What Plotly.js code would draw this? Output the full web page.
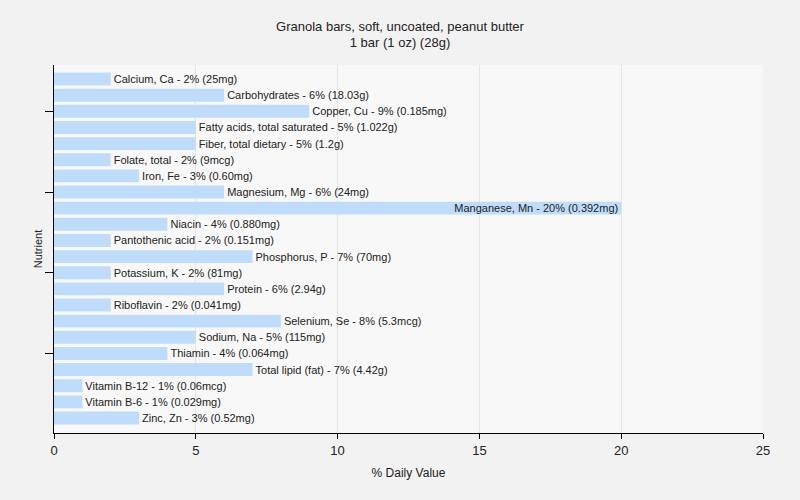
<!DOCTYPE html>
<html><head><meta charset="utf-8">
<script src="https://cdn.plot.ly/plotly-3.0.1.min.js"></script>
<style>body{margin:0;background:#f2f2f2}</style>
</head><body><div id="chart" style="width:800px;height:500px"></div>
<script>
const nutrients = ["Calcium, Ca","Carbohydrates","Copper, Cu","Fatty acids, total saturated","Fiber, total dietary","Folate, total","Iron, Fe","Magnesium, Mg","Manganese, Mn","Niacin","Pantothenic acid","Phosphorus, P","Potassium, K","Protein","Riboflavin","Selenium, Se","Sodium, Na","Thiamin","Total lipid (fat)","Vitamin B-12","Vitamin B-6","Zinc, Zn"];
const dailyValue = [2,6,9,5,5,2,3,6,20,4,2,7,2,6,2,8,5,4,7,1,1,3];
const amounts = ["25mg","18.03g","0.185mg","1.022g","1.2g","9mcg","0.60mg","24mg","0.392mg","0.880mg","0.151mg","70mg","81mg","2.94g","0.041mg","5.3mcg","115mg","0.064mg","4.42g","0.06mcg","0.029mg","0.52mg"];
const yTickVals = [2,7,12,17];
const xTickVals = [0,5,10,15,20,25];

const idx = nutrients.map((_, i) => i);
const labels = nutrients.map((n, i) => n + " - " + dailyValue[i] + "% (" + amounts[i] + ")");
const positions = dailyValue.map(v => v >= 18 ? "inside" : "outside");

Plotly.newPlot("chart", [{
  type: "bar", orientation: "h",
  x: dailyValue, y: idx,
  text: labels, textposition: positions,
  insidetextanchor: "end", constraintext: "none", cliponaxis: false,
  textfont: {family: "Liberation Sans, Arial, sans-serif", size: 11, color: "#222"},
  marker: {color: "#bfdcfb"}, width: 0.8,
  hoverinfo: "none"
}], {
  width: 800, height: 500,
  margin: {l: 54, r: 37, t: 65, b: 67},
  paper_bgcolor: "#f2f2f2", plot_bgcolor: "#f8f8f8",
  font: {family: "Liberation Sans, Arial, sans-serif", size: 12, color: "#222"},
  title: {text: "Granola bars, soft, uncoated, peanut butter<br>1 bar (1 oz) (28g)", x: 0.5, xanchor: "center",
    yref: "container", y: 0.939, yanchor: "middle", font: {size: 13}},
  xaxis: {range: [0, 25], tickvals: xTickVals, showgrid: true, gridcolor: "#e4e4e4", zeroline: false,
    showline: true, linecolor: "#000", ticks: "outside", ticklen: 5, tickcolor: "#000",
    tickfont: {size: 13}, title: {text: "% Daily Value", font: {size: 12}, standoff: 12}},
  yaxis: {range: [21.93, -0.87], tickvals: yTickVals, showticklabels: false, showgrid: false, zeroline: false,
    showline: true, linecolor: "#000", ticks: "outside", ticklen: 8, tickcolor: "#000",
    title: {text: "Nutrient", font: {size: 11}, standoff: 0}},
  bargap: 0.2, showlegend: false
}, {displayModeBar: false, staticPlot: true});
</script></body></html>
